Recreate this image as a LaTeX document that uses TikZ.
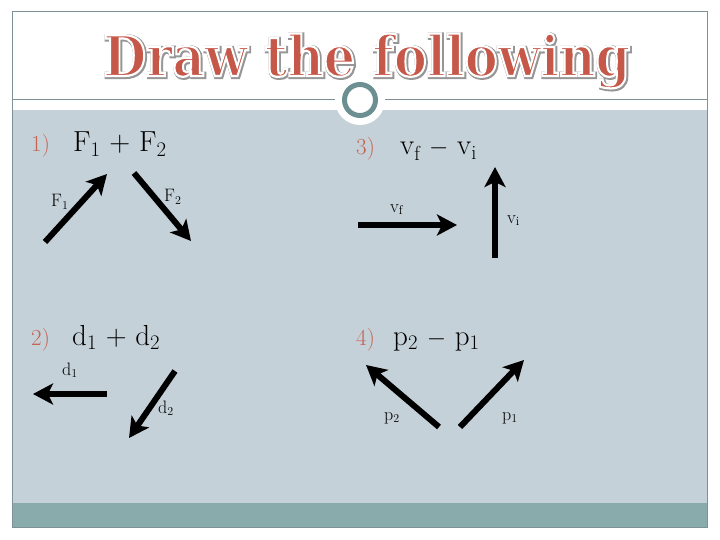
\documentclass[tikz,border=0pt]{standalone}
\usepackage{fontspec}
\usepackage{graphicx}
\usetikzlibrary{arrows.meta}
\newfontfamily\titlefont{DejaVu Serif}
\definecolor{panel}{RGB}{197,209,216}
\definecolor{barteal}{RGB}{138,171,171}
\definecolor{framec}{RGB}{125,145,150}
\definecolor{ringc}{RGB}{108,143,145}
\definecolor{numred}{RGB}{200,98,82}
\definecolor{titlered}{RGB}{198,88,74}
\definecolor{titleshade}{RGB}{150,150,150}
\newcommand{\TitleBox}{\resizebox{527pt}{\height}{\titlefont\bfseries\fontsize{56}{60}\selectfont Draw the following}}
\newcommand{\StrokeText}[3]{\special{pdf:literal direct 2 Tr #1 w #2 RG}#3\special{pdf:literal direct 0 Tr}}
\begin{document}
\begin{tikzpicture}[x=1pt,y=-1pt,
 vec/.style={line width=6pt, -{Stealth[length=20pt,width=21pt,inset=5pt]}},
 num/.style={anchor=base west, text=numred, font=\fontsize{23}{26}\selectfont, inner sep=0pt},
 expr/.style={anchor=base west, font=\fontsize{29}{32}\selectfont, inner sep=0pt},
 lab/.style={anchor=base west, font=\fontsize{18}{21}\selectfont, inner sep=0pt},
 ttl/.style={anchor=base west, inner sep=0pt}]
\useasboundingbox (0,0) rectangle (720,540);
\fill[white] (0,0) rectangle (720,540);
\fill[panel] (12,110) rectangle (707,503);
\fill[white] (360,100) circle (25);
\fill[barteal] (12,503) rectangle (707,527);
\draw[framec, line width=1pt] (12,12) rectangle (707,527);
\draw[framec, line width=1pt] (12,100) -- (335,100) (385,100) -- (707,100);
\draw[ringc, line width=5pt, fill=white] (360,100) circle (15.5);
% title: grey outer edge, then red letters with a white outline
\node[ttl, text=titleshade] (tshade) at (104,77) {\StrokeText{4.2}{0.59 0.59 0.59}{\TitleBox}};
\node[ttl, text=titlered] (title) at (103,76) {\StrokeText{2.2}{1 1 1}{\TitleBox}};
% headings
\node[num] (n1) at (31,152) {1)};
\node[expr] (e1) at (73,152) {F$_1$ + F$_2$};
\node[num] (n3) at (356,155) {3)};
\node[expr] (e3) at (400,155) {v$_\mathrm{f}$ $-$ v$_\mathrm{i}$};
\node[num] (n2) at (31,345) {2)};
\node[expr] (e2) at (72,345) {d$_1$ + d$_2$};
\node[num] (n4) at (356,345) {4)};
\node[expr] (e4) at (393,345) {p$_2$ $-$ p$_1$};
% vectors
\coordinate (f1t) at (45,242); \coordinate (f1h) at (107,174);
\coordinate (f2t) at (134,173); \coordinate (f2h) at (191,241);
\coordinate (vft) at (358,225); \coordinate (vfh) at (457,225);
\coordinate (vit) at (495,258); \coordinate (vih) at (495,167);
\coordinate (d1t) at (107,394); \coordinate (d1h) at (33,394);
\coordinate (d2t) at (175,371); \coordinate (d2h) at (129,438);
\coordinate (p2t) at (439,427); \coordinate (p2h) at (366,365);
\coordinate (p1t) at (460,427); \coordinate (p1h) at (524,360);
\draw[vec] (f1t) -- (f1h);
\draw[vec] (f2t) -- (f2h);
\draw[vec] (vft) -- (vfh);
\draw[vec] (vit) -- (vih);
\draw[vec] (d1t) -- (d1h);
\draw[vec] (d2t) -- (d2h);
\draw[vec] (p2t) -- (p2h);
\draw[vec] (p1t) -- (p1h);
% labels
\node[lab] (lf1) at (51,207) {F$_1$};
\node[lab] (lf2) at (164,202) {F$_2$};
\node[lab] (lvf) at (390,212) {v$_\mathrm{f}$};
\node[lab] (lvi) at (507,223) {v$_\mathrm{i}$};
\node[lab] (ld1) at (62,375) {d$_1$};
\node[lab] (ld2) at (158,413) {d$_2$};
\node[lab] (lp2) at (384,420) {p$_2$};
\node[lab] (lp1) at (502,420) {p$_1$};
\end{tikzpicture}
\end{document}
